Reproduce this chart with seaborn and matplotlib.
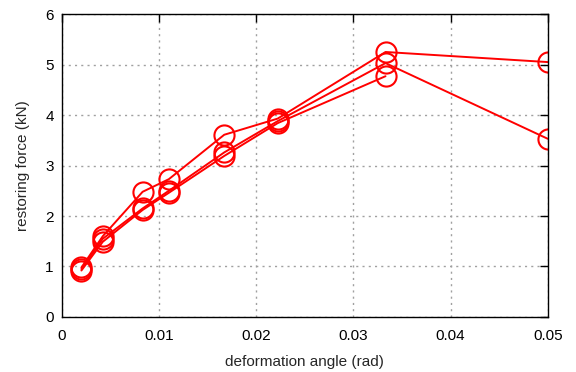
import matplotlib
matplotlib.use("Agg")
import matplotlib.pyplot as plt
import seaborn as sns
import pandas as pd

angle_a = [0.002, 0.0042, 0.0083, 0.011, 0.0167, 0.0222, 0.0333, 0.05]
force_a = [0.98, 1.60, 2.48, 2.73, 3.61, 3.93, 5.25, 5.05]
angle_b = [0.002, 0.0042, 0.0083, 0.011, 0.0167, 0.0222, 0.0333, 0.05]
force_b = [0.95, 1.55, 2.15, 2.50, 3.26, 3.88, 5.03, 3.53]
angle_c = [0.002, 0.0042, 0.0083, 0.011, 0.0167, 0.0222, 0.0333]
force_c = [0.92, 1.49, 2.12, 2.46, 3.19, 3.84, 4.77]

x_ticks = [0, 0.01, 0.02, 0.03, 0.04, 0.05]
x_labels = ["0", "0.01", "0.02", "0.03", "0.04", "0.05"]
y_ticks = [0, 1, 2, 3, 4, 5, 6]

df = pd.concat([
    pd.DataFrame({"angle": angle_a, "force": force_a, "run": "a"}),
    pd.DataFrame({"angle": angle_b, "force": force_b, "run": "b"}),
    pd.DataFrame({"angle": angle_c, "force": force_c, "run": "c"}),
], ignore_index=True)

sns.set_style("white")
plt.rcParams["font.family"] = ["Liberation Sans", "DejaVu Sans"]

fig = plt.figure(figsize=(5.76, 3.72), dpi=100)
ax = fig.add_axes([0.1076, 0.148, 0.8434, 0.814])

sns.lineplot(data=df, x="angle", y="force", units="run", estimator=None,
             sort=False, color="#ff0000", lw=1.4, marker="o", markersize=14.5,
             markerfacecolor="none", markeredgecolor="#ff0000",
             markeredgewidth=1.5, ax=ax, legend=False)

ax.set_xlim(0, 0.05)
ax.set_ylim(0, 6)
ax.set_xticks(x_ticks)
ax.set_xticklabels(x_labels)
ax.set_yticks(y_ticks)
ax.grid(True, color="#a0a0a0", linestyle=(0, (1.5, 3)), linewidth=1.0)
for s in ax.spines.values():
    s.set_color("black")
    s.set_linewidth(1.0)
ax.tick_params(direction="in", length=6, width=1, top=True, right=True,
               labelsize=11, colors="black")
ax.tick_params(axis="x", pad=9)
ax.tick_params(axis="y", pad=6)
ax.set_xlabel("deformation angle (rad)", fontsize=11, labelpad=8)
ax.set_ylabel("restoring force (kN)", fontsize=11, labelpad=11)

fig.savefig("out.png", dpi=100)
